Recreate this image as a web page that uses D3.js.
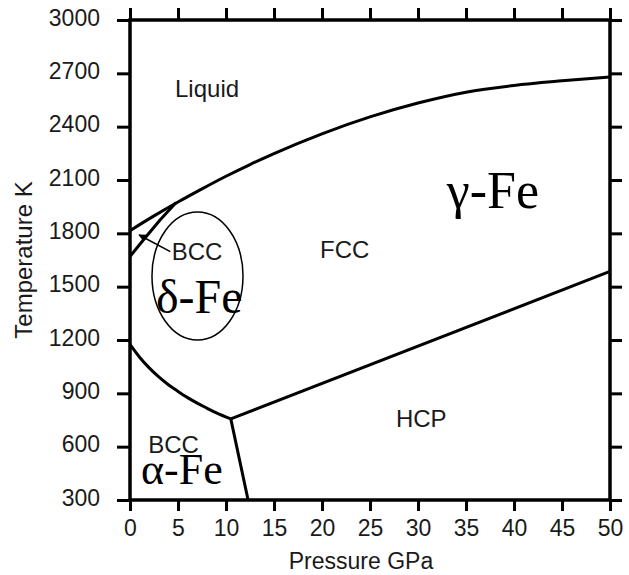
<!DOCTYPE html>
<html><head><meta charset="utf-8">
<script src="https://cdn.jsdelivr.net/npm/d3@7"></script>
<style>
html,body{margin:0;padding:0;background:#fff;}
svg{display:block;}
</style></head>
<body>
<svg id="chart" width="629" height="575"></svg>
<script>
// ---- data ----
const pressureTicks = [0,5,10,15,20,25,30,35,40,45,50];
const tempTicks = [300,600,900,1200,1500,1800,2100,2400,2700,3000];

// Liquid / solid (melting) curve
const meltP = [0, 2.5, 5, 7.5, 10, 12.5, 15, 20, 25, 30, 35, 40, 45, 50];
const meltT = [1815, 1898, 1976, 2050, 2121, 2187, 2249, 2360, 2455, 2533, 2594, 2632, 2658, 2680];

// delta (BCC) / gamma (FCC) boundary
const deltaP = [0, 1.56, 3.13, 4.8];
const deltaT = [1670, 1774, 1875, 1973];

// alpha (BCC) / gamma (FCC) boundary
const alphaGammaP = [0, 1, 2, 3, 4, 5, 6, 7, 8, 9, 10.5];
const alphaGammaT = [1175, 1103, 1043, 992, 948, 911, 876, 845, 817, 790, 756];

// alpha (BCC) / epsilon (HCP) boundary
const alphaEpsP = [10.5, 12.3];
const alphaEpsT = [756, 300];

// gamma (FCC) / epsilon (HCP) boundary
const gammaEpsP = [10.5, 50];
const gammaEpsT = [756, 1586];

// ---- drawing ----
const svg = d3.select("#chart");
const x = d3.scaleLinear().domain([0,50]).range([130,610]);
const y = d3.scaleLinear().domain([300,3000]).range([500,20]);

const sans = "'Liberation Sans', Arial, Helvetica, sans-serif";
const serif = "'Liberation Serif', 'Times New Roman', Times, serif";

function styleAxis(g){
  g.select(".domain").remove();
  g.selectAll(".tick line").attr("stroke","#000").attr("stroke-width",3);
  g.selectAll(".tick text").attr("fill","#1a1a1a").style("font-family",sans).style("font-size","23px");
}

// bottom
svg.append("g").attr("transform",`translate(0,${y(300)})`)
  .call(d3.axisBottom(x).tickValues(pressureTicks).tickSize(11).tickPadding(9).tickFormat(d3.format("d")))
  .call(styleAxis);
// top
svg.append("g").attr("transform",`translate(0,${y(3000)})`)
  .call(d3.axisTop(x).tickValues(pressureTicks).tickSize(12).tickFormat(""))
  .call(styleAxis);
// left
svg.append("g").attr("transform",`translate(${x(0)},0)`)
  .call(d3.axisLeft(y).tickValues(tempTicks).tickSize(13).tickPadding(17).tickFormat(d3.format("d")))
  .call(styleAxis)
  .selectAll(".tick text").attr("dy","0.22em");
// right
svg.append("g").attr("transform",`translate(${x(50)},0)`)
  .call(d3.axisRight(y).tickValues(tempTicks).tickSize(12).tickFormat(""))
  .call(styleAxis);

// frame
svg.append("rect")
  .attr("x",x(0)).attr("y",y(3000))
  .attr("width",x(50)-x(0)).attr("height",y(300)-y(3000))
  .attr("fill","none").attr("stroke","#000").attr("stroke-width",3.5);

// phase boundaries
const line = d3.line().x(d=>x(d[0])).y(d=>y(d[1])).curve(d3.curveMonotoneX);
const lineStraight = d3.line().x(d=>x(d[0])).y(d=>y(d[1]));
const zip = (a,b)=>a.map((v,i)=>[v,b[i]]);

const g = svg.append("g").attr("fill","none").attr("stroke","#000").attr("stroke-width",3).attr("stroke-linejoin","round");
g.append("path").attr("d",line(zip(meltP,meltT)));
g.append("path").attr("d",lineStraight(zip(deltaP,deltaT)));
g.append("path").attr("d",line(zip(alphaGammaP,alphaGammaT)));
g.append("path").attr("d",lineStraight(zip(alphaEpsP,alphaEpsT)));
g.append("path").attr("d",lineStraight(zip(gammaEpsP,gammaEpsT)));

// ellipse around delta-Fe
svg.append("ellipse")
  .attr("cx",x(7.03)).attr("cy",y(1560))
  .attr("rx",x(4.74)-x(0)).attr("ry",y(1200)-y(1560))
  .attr("fill","none").attr("stroke","#000").attr("stroke-width",1.5);

// arrow
svg.append("defs").append("marker")
  .attr("id","ah").attr("viewBox","0 0 10 10").attr("refX",9).attr("refY",5)
  .attr("markerWidth",5).attr("markerHeight",5).attr("orient","auto")
  .append("path").attr("d","M0,0L10,5L0,10z").attr("fill","#000");
svg.append("line")
  .attr("x1",x(4.2)).attr("y1",y(1697)).attr("x2",x(0.95)).attr("y2",y(1791))
  .attr("stroke","#000").attr("stroke-width",1.6).attr("marker-end","url(#ah)");

// labels
function label(txt, p, t, font, size){
  svg.append("text").attr("x",x(p)).attr("y",y(t)).text(txt)
    .attr("fill", font===serif ? "#000" : "#1a1a1a")
    .style("font-family",font).style("font-size",size+"px");
}
label("Liquid", 4.69, 2567, sans, 24);
label("FCC", 19.8, 1661, sans, 24);
label("HCP", 27.7, 710, sans, 24);
label("BCC", 4.34, 1650, sans, 24);
label("BCC", 1.9, 565, sans, 24);
label("δ-Fe", 2.7, 1352, serif, 48);
label("α-Fe", 1.15, 390, serif, 44);
label("γ-Fe", 33.0, 1942, serif, 52);

// axis titles
svg.append("text").attr("x",361).attr("y",569).attr("text-anchor","middle")
  .text("Pressure GPa").attr("fill","#1a1a1a").style("font-family",sans).style("font-size","23px");
svg.append("text").attr("transform","translate(32,260) rotate(-90)").attr("text-anchor","middle")
  .text("Temperature K").attr("fill","#1a1a1a").style("font-family",sans).style("font-size","24px");
</script>
</body></html>
